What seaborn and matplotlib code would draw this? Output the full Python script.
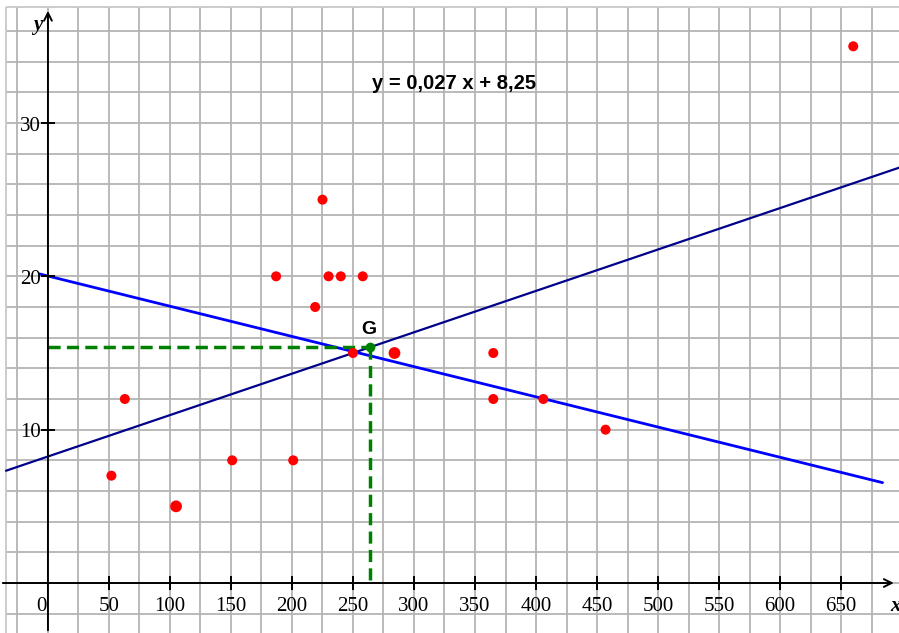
import matplotlib
matplotlib.use("Agg")
import matplotlib.pyplot as plt
import seaborn as sns
import pandas as pd
import numpy as np

# data
x_pts = [52, 63, 105, 151, 187, 201, 219, 225, 230, 240, 250, 258, 284, 365, 365, 406, 457, 660]
y_pts = [7, 12, 5, 8, 20, 8, 18, 25, 20, 20, 15, 20, 15, 15, 12, 12, 10, 35]
pt_size = [52, 52, 72, 52, 52, 52, 52, 52, 52, 52, 52, 52, 72, 52, 52, 52, 52, 52]

reg_slope, reg_intercept = 0.027, 8.25
line2_slope, line2_intercept = -0.0197, 20.02
line2_xrange = [-7, 684]
G = (264, 15.4)

x_ticks = list(range(50, 700, 50))
y_ticks = [10, 20, 30]
equation = "y = 0,027 x + 8,25"

df = pd.DataFrame({"x": x_pts, "y": y_pts, "s": pt_size})

sns.set_style("white")
plt.rcParams["font.family"] = ["Liberation Serif", "DejaVu Serif"]
plt.rcParams["text.color"] = "black"

fig = plt.figure(figsize=(8.99, 6.33), dpi=100)
ax = fig.add_axes([0, 0, 1, 1])
xmin, xmax = -39.3, 697.5
ymin, ymax = -3.26, 38.02

# squared paper
left_border, top_border = -34.4, 37.57
grid_c = "#b4b4b4"
gx = np.arange(-25, 700, 25)
gy = np.arange(-2, 38, 2)
ax.vlines(gx, ymin, top_border, color=grid_c, lw=1.3, zorder=0)
ax.hlines(gy, left_border, xmax, color=grid_c, lw=1.3, zorder=0)
ax.vlines([left_border], ymin, top_border, color="#c8c8c8", lw=1.3, zorder=0)
ax.hlines([top_border], left_border, xmax, color="#c8c8c8", lw=1.3, zorder=0)

# axes with arrows
ax.annotate("", xy=(0, 37.5), xytext=(0, ymin),
            arrowprops=dict(arrowstyle="->", color="black", lw=1.4, mutation_scale=14), zorder=3)
ax.annotate("", xy=(695.5, 0), xytext=(xmin, 0),
            arrowprops=dict(arrowstyle="->", color="black", lw=1.4, mutation_scale=14), zorder=3)
ax.plot(x_ticks, [0] * len(x_ticks), ls="none", marker="|", ms=10, mew=1.4, color="black", zorder=3)
ax.plot([0] * len(y_ticks), y_ticks, ls="none", marker="_", ms=10, mew=1.4, color="black", zorder=3)

for t in x_ticks:
    ax.text(t, -1.5, str(t), ha="center", va="center", fontsize=15)
ax.text(-5, -1.5, "0", ha="center", va="center", fontsize=15)
for t in y_ticks:
    ax.text(-5.5, t - 0.2, str(t), ha="right", va="center", fontsize=15)
ax.text(-8.5, 36.4, "y", ha="center", va="center", fontsize=15, style="italic", weight="bold")
ax.text(690, -1.5, "x", ha="left", va="center", fontsize=15, style="italic", weight="bold")

# regression line
rx = np.array([left_border, xmax])
ax.plot(rx, reg_slope * rx + reg_intercept, color="#00008b", lw=1.6, zorder=2)
# second line
l2x = np.array(line2_xrange)
ax.plot(l2x, line2_slope * l2x + line2_intercept, color="#0000ff", lw=2, zorder=2)

# mean point G
ax.plot([0, G[0]], [G[1], G[1]], color="#008000", lw=2.5, ls=(0, (3.5, 1.8)), zorder=2)
ax.plot([G[0], G[0]], [G[1], 0], color="#008000", lw=2.5, ls=(0, (3.5, 1.8)), zorder=2)
ax.plot([G[0]], [G[1]], "o", color="#008000", ms=6, zorder=4)
ax.text(G[0] - 1, G[1] + 1.15, "G", ha="center", va="center", fontsize=14,
        weight="bold", family=["Liberation Sans", "DejaVu Sans"])

sns.scatterplot(data=df, x="x", y="y", size="s", sizes=(52, 72), color="#ff0000",
                edgecolor="none", legend=False, ax=ax, zorder=5)
ax.set_xlim(xmin, xmax)
ax.set_ylim(ymin, ymax)
ax.axis("off")

ax.text(333, 32.55, equation, ha="center", va="center", fontsize=14.5, weight="bold",
        family=["Liberation Sans", "DejaVu Sans"])

fig.savefig("out.png", dpi=100)
